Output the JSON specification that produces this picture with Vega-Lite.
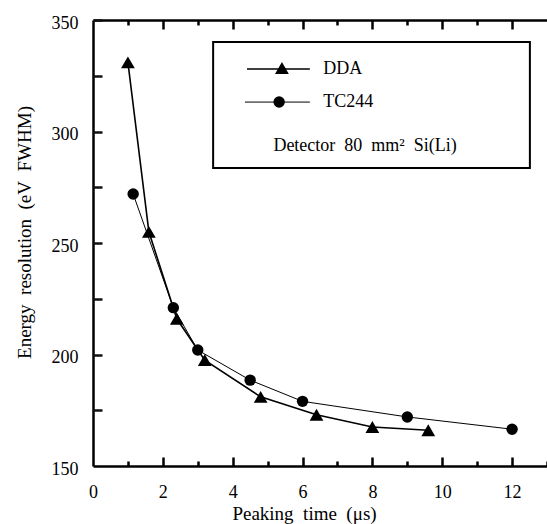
{
  "$schema": "https://vega.github.io/schema/vega-lite/v6.json",
  "autosize": {"type": "none"},
  "padding": {"left": 93, "top": 20, "right": 0, "bottom": 58},
  "width": 454,
  "height": 446,
  "background": "white",
  "config": {
    "view": {"stroke": null},
    "font": "Liberation Serif",
    "axis": {
      "labelFont": "Liberation Serif",
      "titleFont": "Liberation Serif",
      "labelFontSize": 18,
      "titleFontSize": 19,
      "titleFontWeight": "normal",
      "labelColor": "black",
      "titleColor": "black",
      "domainColor": "black",
      "domainWidth": 2.5,
      "grid": false,
      "zindex": 1
    }
  },
  "datasets": {
    "main": [
      {"t": 1.0, "res": 331, "series": "DDA"},
      {"t": 1.6, "res": 255, "series": "DDA"},
      {"t": 2.4, "res": 216, "series": "DDA"},
      {"t": 3.2, "res": 197.5, "series": "DDA"},
      {"t": 4.8, "res": 181, "series": "DDA"},
      {"t": 6.4, "res": 173, "series": "DDA"},
      {"t": 8.0, "res": 167.5, "series": "DDA"},
      {"t": 9.6, "res": 166, "series": "DDA"},
      {"t": 1.15, "res": 272, "series": "TC244"},
      {"t": 2.3, "res": 221, "series": "TC244"},
      {"t": 3.0, "res": 202, "series": "TC244"},
      {"t": 4.5, "res": 188.5, "series": "TC244"},
      {"t": 6.0, "res": 179, "series": "TC244"},
      {"t": 9.0, "res": 172, "series": "TC244"},
      {"t": 12.0, "res": 166.5, "series": "TC244"}
    ],
    "box": [{"x": 3.44, "x2": 12.51, "y": 340.1, "y2": 283.6}],
    "keylines": [
      {"x": 4.41, "x2": 6.21, "y": 328.0, "series": "DDA"},
      {"x": 4.35, "x2": 6.21, "y": 313.2, "series": "TC244"}
    ],
    "keysymbols": [
      {"x": 5.41, "y": 328.5, "series": "DDA"},
      {"x": 5.33, "y": 313.2, "series": "TC244"}
    ],
    "keytext": [
      {"x": 6.59, "y": 328.0, "label": "DDA"},
      {"x": 6.59, "y": 313.2, "label": "TC244"}
    ],
    "note": [
      {"x": 7.79, "y": 293.5, "label": "Detector\u00a0 80\u00a0 mm²\u00a0 Si(Li)"}
    ]
  },
  "layer": [
    {
      "data": {"name": "main"},
      "mark": {"type": "line", "color": "black"},
      "encoding": {
        "x": {"field": "t", "type": "quantitative",
          "scale": {"domain": [0, 13], "nice": false, "zero": false},
          "axis": {"orient": "bottom", "values": [0, 2, 4, 6, 8, 10, 12], "ticks": false, "tickSize": 0, "labelPadding": 17, "labelFlush": false,
            "title": "Peaking\u00a0 time\u00a0 (μs)", "titleX": 211, "titleY": 47, "titleBaseline": "middle"}},
        "y": {"field": "res", "type": "quantitative",
          "scale": {"domain": [150, 350], "nice": false, "zero": false},
          "axis": {"orient": "left", "values": [150, 200, 250, 300, 350], "ticks": false, "tickSize": 0, "labelPadding": 15, "labelOffset": 3, "labelFlush": false,
            "title": "Energy\u00a0 resolution\u00a0 (eV\u00a0 FWHM)", "titleX": -69, "titleY": 212, "titleBaseline": "middle"}},
        "detail": {"field": "series"},
        "strokeWidth": {"field": "series", "type": "nominal", "scale": {"domain": ["DDA", "TC244"], "range": [1.6, 1.0]}, "legend": null}
      }
    },
    {
      "data": {"name": "main"},
      "mark": {"type": "point", "filled": true, "color": "black", "opacity": 1},
      "encoding": {
        "x": {"field": "t", "type": "quantitative",
          "axis": {"orient": "top", "values": [0, 2, 4, 6, 8, 10, 12], "ticks": false, "labels": false, "title": null, "domainColor": "black"}},
        "y": {"field": "res", "type": "quantitative",
          "axis": {"orient": "right", "labels": false, "ticks": false, "domain": false, "title": null}},
        "shape": {"field": "series", "type": "nominal", "scale": {"domain": ["DDA", "TC244"], "range": ["triangle-up", "circle"]}, "legend": null},
        "size": {"field": "series", "type": "nominal", "scale": {"domain": ["DDA", "TC244"], "range": [190, 130]}, "legend": null}
      }
    },
    {
      "data": {"name": "box"},
      "mark": {"type": "rect", "fill": "white", "stroke": "black", "strokeWidth": 2},
      "encoding": {
        "x": {"field": "x", "type": "quantitative",
          "axis": {"orient": "bottom", "values": [2, 4, 6, 8, 10, 12], "tickSize": 9, "offset": -9, "tickColor": "#000000", "tickWidth": 2.5, "labels": false, "domain": false, "title": null}},
        "x2": {"field": "x2"},
        "y": {"field": "y", "type": "quantitative",
          "axis": {"orient": "left", "values": [200, 250, 300, 350], "tickSize": 9, "offset": -9, "tickColor": "#111111", "tickWidth": 2.5, "labels": false, "domain": false, "title": null}},
        "y2": {"field": "y2"}
      }
    },
    {
      "data": {"name": "keylines"},
      "mark": {"type": "rule", "color": "black"},
      "encoding": {
        "x": {"field": "x", "type": "quantitative",
          "axis": {"orient": "top", "values": [2, 4, 6, 8, 10, 12], "tickSize": 9, "offset": -9, "tickColor": "#000000", "tickWidth": 2.5, "labels": false, "domain": false, "title": null}},
        "x2": {"field": "x2"},
        "y": {"field": "y", "type": "quantitative",
          "axis": {"orient": "left", "values": [175, 225, 275, 325], "tickSize": 9, "offset": -9, "tickColor": "#111111", "tickWidth": 2.5, "labels": false, "domain": false, "title": null}},
        "strokeWidth": {"field": "series", "type": "nominal", "scale": {"domain": ["DDA", "TC244"], "range": [1.6, 1.0]}, "legend": null}
      }
    },
    {
      "data": {"name": "keysymbols"},
      "mark": {"type": "point", "filled": true, "color": "black", "opacity": 1},
      "encoding": {
        "x": {"field": "x", "type": "quantitative",
          "axis": {"orient": "bottom", "values": [1, 3, 5, 7, 9, 11, 13], "tickSize": 5, "offset": -5, "tickColor": "#000000", "tickWidth": 2.5, "labels": false, "domain": false, "title": null}},
        "y": {"field": "y", "type": "quantitative", "axis": null},
        "shape": {"field": "series", "type": "nominal", "scale": {"domain": ["DDA", "TC244"], "range": ["triangle-up", "circle"]}, "legend": null},
        "size": {"field": "series", "type": "nominal", "scale": {"domain": ["DDA", "TC244"], "range": [190, 130]}, "legend": null}
      }
    },
    {
      "data": {"name": "keytext"},
      "mark": {"type": "text", "font": "Liberation Serif", "fontSize": 18, "color": "black", "baseline": "middle", "align": "left"},
      "encoding": {
        "x": {"field": "x", "type": "quantitative",
          "axis": {"orient": "top", "values": [1, 3, 5, 7, 9, 11], "tickSize": 5, "offset": -5, "tickColor": "#000000", "tickWidth": 2.5, "labels": false, "domain": false, "title": null}},
        "y": {"field": "y", "type": "quantitative", "axis": null},
        "text": {"field": "label"}
      }
    },
    {
      "data": {"name": "note"},
      "mark": {"type": "text", "font": "Liberation Serif", "fontSize": 18, "color": "black", "baseline": "middle", "align": "center"},
      "encoding": {
        "x": {"field": "x", "type": "quantitative", "axis": null},
        "y": {"field": "y", "type": "quantitative", "axis": null},
        "text": {"field": "label"}
      }
    }
  ]
}
